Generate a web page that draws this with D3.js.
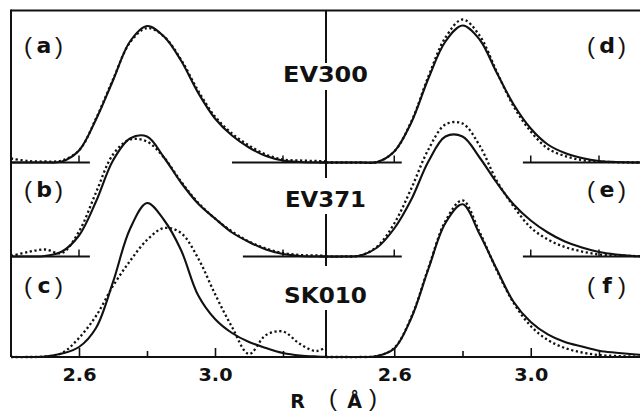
<!DOCTYPE html>
<html>
<head>
<meta charset="utf-8">
<script src="https://cdn.jsdelivr.net/npm/d3@7"></script>
<style>
body { margin: 0; background: #fff; }
svg { display: block; }
text { font-family: "Liberation Sans", Arial, sans-serif; fill: #111; }
text.bold { font-family: "DejaVu Sans", "Liberation Sans", sans-serif; font-weight: bold; }
</style>
</head>
<body>
<div id="chart"></div>
<script>
// R grid (Angstrom) shared by all curves
const rGrid = [2.40, 2.45, 2.50, 2.55, 2.60, 2.65, 2.70, 2.75, 2.80, 2.85,
               2.90, 2.95, 3.00, 3.05, 3.10, 3.15, 3.20, 3.25, 3.30, 3.35];

// left column (a) (b) (c), arbitrary units
const aSolid  = [0, 0, 0, 1, 12, 43, 82, 121, 136.5, 126, 102, 70, 44, 27, 15, 6.5, 2, 0.5, 0, 0];
const aDotted = [4, 1.5, 1, 2, 12, 44, 83, 120, 134.5, 126, 103, 72, 46, 29, 17, 8, 3, 2, 1.5, 1];
const bSolid  = [0, 0, 0.5, 5, 21, 55, 96, 118, 120, 99, 74, 53, 38, 24, 14.5, 7, 2.5, 0.5, 0, 0];
const bDotted = [0.5, 4.5, 7, 3.5, 25, 64, 102, 117, 115, 99, 75, 54, 38, 25, 15, 8, 3.5, 1.5, 1, 1];
const cSolid  = [0, 0, 0.5, 3.5, 10, 29, 75, 128, 154, 137, 107, 62, 38, 24, 15, 9, 4, 1.5, 0.5, 0];
const cDotted = [0, 0, 0.5, 4, 19, 41, 71, 96, 117, 129, 124, 99, 63, 30, 3, 22, 25.5, 13, 6, 16];

// right column (d) (e) (f)
const dSolid  = [0, 0, 0, 0.5, 11, 40, 84, 121, 137, 123, 90, 58, 34, 18, 9.5, 4.5, 1.5, 0.5, 0, 0];
const dDotted = [0, 0, 0, 0.5, 11, 41, 86, 125, 143, 127, 91, 56, 31, 14, 6.5, 2.5, 1, 0.3, 0, 0];
const eSolid  = [0, 0, 1, 9, 28, 57, 95, 120, 120, 99, 74, 52, 36, 24, 15, 9, 4.5, 2, 0.5, 0];
const eDotted = [0, 0, 1, 10, 33, 68, 107, 132, 133, 111, 76, 50, 29, 17, 9.5, 5, 2, 1, 0.5, 0];
const fSolid  = [0, 0, 0, 1, 8.5, 39, 88, 134, 152.7, 123, 88, 55, 35, 22.6, 15, 10.5, 6.3, 4.3, 2.7, 1.5];
const fDotted = [0, 0, 0, 1, 9, 40, 89, 136, 156.7, 125, 87, 54, 31, 17, 9, 4.5, 2, 1, 0.5, 0];

const panelLetters = ["a", "b", "c", "d", "e", "f"];
const sampleNames = ["EV300", "EV371", "SK010"];
const majorTicks = [2.6, 3.0];
const minorTicks = [2.8, 3.2];

const width = 640, height = 411;
const leftX = 11, midX = 326, rightX = 640, topY = 10.5;
const rowBase = [162.5, 256.5, 357];

const svg = d3.select("#chart").append("svg")
    .attr("width", width)
    .attr("height", height);

const xLeft = d3.scaleLinear().domain([2.4, 3.2]).range([leftX, 283]);
const xRight = d3.scaleLinear().domain([2.4, 3.2]).range([midX, 599]);
const hScale = d3.scaleLinear().domain([0, 160]).range([0, 160]);

const columns = [
    { x: xLeft, clip: "clipL", series: [[aSolid, aDotted], [bSolid, bDotted], [cSolid, cDotted]] },
    { x: xRight, clip: "clipR", series: [[dSolid, dDotted], [eSolid, eDotted], [fSolid, fDotted]] }
];

const defs = svg.append("defs");
defs.append("clipPath").attr("id", "clipL").append("rect")
    .attr("x", leftX).attr("y", 0).attr("width", midX - leftX).attr("height", height);
defs.append("clipPath").attr("id", "clipR").append("rect")
    .attr("x", midX).attr("y", 0).attr("width", rightX - midX).attr("height", height);

// frame
const frame = svg.append("g").attr("stroke", "#111").attr("stroke-width", 2).attr("fill", "none");
frame.append("line").attr("x1", leftX).attr("x2", rightX).attr("y1", topY).attr("y2", topY);
frame.append("line").attr("x1", leftX).attr("x2", leftX).attr("y1", topY - 1).attr("y2", rowBase[2]);
frame.append("line").attr("x1", midX).attr("x2", midX).attr("y1", topY).attr("y2", rowBase[2]);
frame.append("line").attr("x1", leftX).attr("x2", rightX).attr("y1", rowBase[2]).attr("y2", rowBase[2])
    .attr("stroke-width", 2.2);

// partial baselines for the upper two rows: [start R, end R, tick R]
const baseSegs = [
    // left column
    [[[2.4, 2.632, [2.6]], [3.05, 3.327, [3.2]]], [[2.4, 2.632, [2.6]], [3.082, 3.327, [3.2]]]],
    // right column
    [[[2.38, 2.622, [2.6]], [2.977, 3.33, [3.0, 3.2]]], [[2.38, 2.622, [2.6]], [2.977, 3.33, [3.0, 3.2]]]]
];
const bl = svg.append("g").attr("stroke", "#111").attr("fill", "none");
baseSegs.forEach((col, ci) => {
    const x = columns[ci].x;
    col.forEach((segs, ri) => {
        const y0 = rowBase[ri];
        segs.forEach(s => {
            bl.append("line").attr("x1", x(s[0])).attr("x2", x(s[1]))
                .attr("y1", y0).attr("y2", y0).attr("stroke-width", 1.8);
            s[2].forEach(t => {
                bl.append("line").attr("x1", x(t)).attr("x2", x(t))
                    .attr("y1", y0).attr("y2", y0 - 7).attr("stroke-width", 1.5);
            });
        });
    });
});

// bottom axes: major ticks with labels, minor ticks without
columns.forEach(col => {
    const major = d3.axisBottom(col.x).tickValues(majorTicks).tickSizeInner(-9)
        .tickSizeOuter(0).tickFormat(d3.format(".1f"));
    const minor = d3.axisBottom(col.x).tickValues(minorTicks).tickSizeInner(-6)
        .tickSizeOuter(0).tickFormat("");
    [major, minor].forEach(ax => {
        const g = svg.append("g").attr("transform", `translate(0,${rowBase[2]})`).call(ax);
        g.select(".domain").remove();
        g.attr("font-family", null).attr("font-size", null);
        g.selectAll(".tick line").attr("stroke", "#111").attr("stroke-width", 1.6);
        g.selectAll(".tick text")
            .attr("class", "bold")
            .attr("y", 23.5).attr("dy", null)
            .attr("font-size", 17)
            .attr("textLength", 34).attr("lengthAdjust", "spacingAndGlyphs")
            .attr("fill", "#111");
    });
});

// curves
columns.forEach(col => {
    const g = svg.append("g").attr("clip-path", `url(#${col.clip})`).attr("fill", "none");
    col.series.forEach((pair, ri) => {
        const line = d3.line()
            .x((d, i) => col.x(rGrid[i]))
            .y(d => rowBase[ri] - hScale(d))
            .curve(d3.curveCatmullRom.alpha(0.5));
        g.append("path").attr("d", line(pair[1]))
            .attr("stroke", "#111").attr("stroke-width", 2.3)
            .attr("stroke-dasharray", "2.2,2.6");
        g.append("path").attr("d", line(pair[0]))
            .attr("stroke", "#111").attr("stroke-width", 2.1);
    });
});

// sample names over the divider
const nameY = [81.5, 207, 303];
const nameLen = [85, 81, 83];
const gapBox = [[63, 90], [178, 214], [266, 310]];
sampleNames.forEach((n, i) => {
    svg.append("rect").attr("x", midX - 3).attr("y", gapBox[i][0])
        .attr("width", 6).attr("height", gapBox[i][1] - gapBox[i][0]).attr("fill", "#fff");
    svg.append("text").attr("class", "bold").attr("x", 325.5).attr("y", nameY[i])
        .attr("text-anchor", "middle").attr("font-size", 22)
        .attr("textLength", nameLen[i]).attr("lengthAdjust", "spacingAndGlyphs")
        .text(n);
});

// panel letters
const letterY = [53, 197, 293];
panelLetters.forEach((p, i) => {
    const cx = i < 3 ? 44 : 607;
    const y = letterY[i % 3];
    const g = svg.append("g");
    g.append("text").attr("x", cx - 16).attr("y", y + 1).attr("text-anchor", "middle")
        .attr("font-size", 24).text("(");
    g.append("text").attr("class", "bold").attr("x", cx).attr("y", y).attr("text-anchor", "middle")
        .attr("font-size", 22).text(p);
    g.append("text").attr("x", cx + 15).attr("y", y + 1).attr("text-anchor", "middle")
        .attr("font-size", 24).text(")");
});

// axis title R (Å)
svg.append("text").attr("class", "bold").attr("x", 297.5).attr("y", 408).attr("text-anchor", "middle")
    .attr("font-size", 19).text("R");
svg.append("text").attr("x", 333).attr("y", 406).attr("text-anchor", "middle")
    .attr("font-size", 24).text("(");
svg.append("text").attr("class", "bold").attr("x", 354.5).attr("y", 408).attr("text-anchor", "middle")
    .attr("font-size", 19).text("Å");
svg.append("text").attr("x", 373).attr("y", 406).attr("text-anchor", "middle")
    .attr("font-size", 24).text(")");
</script>
</body>
</html>
